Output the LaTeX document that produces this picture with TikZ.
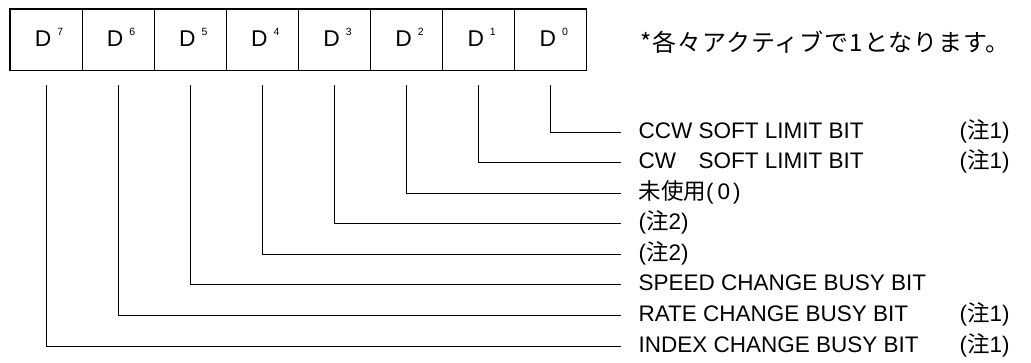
\documentclass[tikz,border=0pt]{standalone}
\usepackage{fontspec}
\setmainfont{Liberation Sans}
\newfontfamily\jp{Noto Sans CJK JP}
\newfontfamily\jpwide[LetterSpace=4]{Noto Sans CJK JP}
\begin{document}
\begin{tikzpicture}[x=1pt,y=-1pt,line width=1.2pt,
  cell/.style={draw,minimum width=72.1pt,minimum height=61.5pt,inner sep=0pt,outer sep=0pt,
    text height=18pt,text depth=3.5pt},
  dfont/.style={font=\fontsize{22.8}{22.8}\selectfont},
  lbl/.style={anchor=west,inner sep=0pt,text height=16pt,text depth=4pt,font=\fontsize{22.5}{24}\selectfont},
  hdr/.style={anchor=west,inner sep=0pt,font=\jpwide\fontsize{24}{26}\selectfont},
  wire/.style={line width=1.1pt}]
\useasboundingbox (0,0) rectangle (1031,363);
\foreach \b [evaluate=\b as \i using 7-\b] in {7,6,5,4,3,2,1,0}{
  \node[cell,dfont] (c\b) at ({10+72.1*(\i+0.5)},39.75)
    {\hspace*{6pt}D\hspace{6pt}\raisebox{11pt}{\fontsize{10.5}{10.5}\selectfont\b}};
}
\node[hdr] (h) at (640,42) {*各々アクティブで1となります。};
\node[lbl] (l0) at (638,132.5) {CCW SOFT LIMIT BIT};
\node[lbl] (l1) at (638,162.5) {CW\hphantom{C} SOFT LIMIT BIT};
\node[lbl] (l2) at (638,193.5) {{\jp 未使用}(\hspace{4pt}0\hspace{3pt})};
\node[lbl] (l3) at (638,223.5) {({\jp 注}2)};
\node[lbl] (l4) at (638,254.5) {({\jp 注}2)};
\node[lbl] (l5) at (638,284.5) {SPEED CHANGE BUSY BIT};
\node[lbl] (l6) at (638,315.5) {RATE CHANGE BUSY BIT};
\node[lbl] (l7) at (638,346.5) {INDEX CHANGE BUSY BIT};
\node[lbl] (n0) at (959,132.5) {({\jp 注}1)};
\node[lbl] (n1) at (959,162.5) {({\jp 注}1)};
\node[lbl] (n6) at (959,315.5) {({\jp 注}1)};
\node[lbl] (n7) at (959,346.5) {({\jp 注}1)};
\foreach \b in {0,...,7}{
  \draw[wire] ([yshift=-15pt]c\b.south) |- ([xshift=-17pt]l\b.west);
}
\end{tikzpicture}
\end{document}
